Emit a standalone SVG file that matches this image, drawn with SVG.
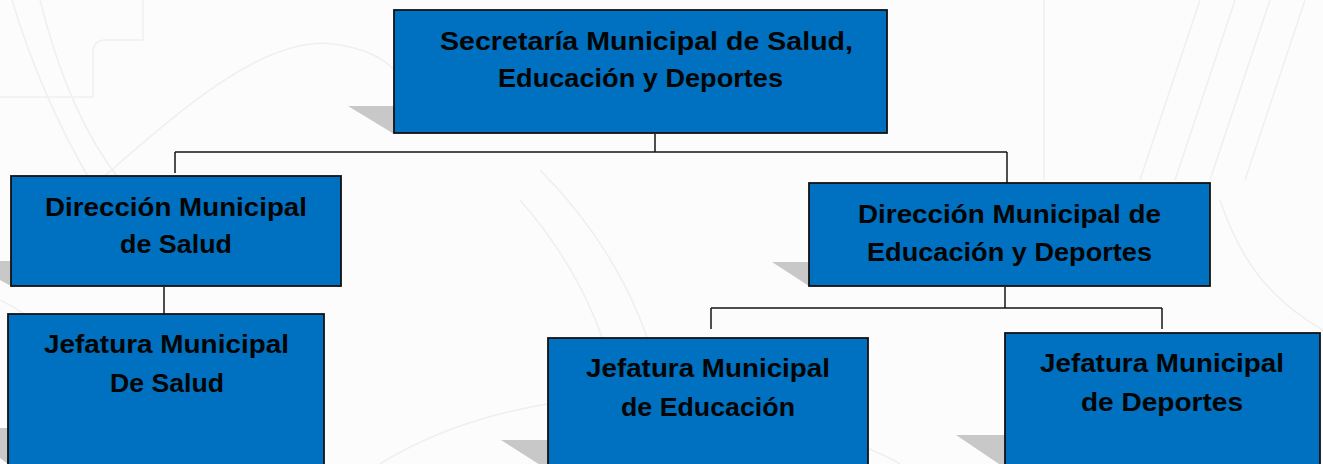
<svg xmlns="http://www.w3.org/2000/svg" width="1323" height="464" viewBox="0 0 1323 464">
<style>
.bg{fill:#fcfcfc}
.wm{fill:none;stroke:#efefef;stroke-width:1.5}
.sh{fill:#c8c8c8}
.box{fill:#0070c0;stroke:#111111;stroke-width:1.8}
.t{font-family:"Liberation Sans",Arial,sans-serif;font-weight:bold;font-size:26px;fill:#050505;text-anchor:start}
.con{fill:none;stroke:#141414;stroke-width:1.5}
</style>
<rect class="bg" x="0" y="0" width="1323" height="464"/>
<g id="watermark">
<path class="wm" d="M12,0 C30,60 55,120 90,180"/>
<path class="wm" d="M40,0 C55,60 80,130 120,180"/>
<path class="wm" d="M143,0 V40 H106 Q93,40 93,53 V97 H0"/>
<path class="wm" d="M100,180 C180,110 270,30 340,45 C370,50 385,60 394,70"/>
<path class="wm" d="M1044,0 V180"/>
<path class="wm" d="M1200,0 C1180,60 1160,120 1140,180"/>
<path class="wm" d="M1235,0 C1215,60 1195,120 1175,180"/>
<path class="wm" d="M1270,0 C1250,60 1230,120 1210,180"/>
<path class="wm" d="M1305,0 C1285,60 1265,120 1245,180"/>
<path class="wm" d="M0,300 C60,330 100,380 130,464"/>
<path class="wm" d="M540,170 C600,230 640,300 660,380"/>
<path class="wm" d="M520,200 C590,280 615,360 620,420"/>
<path class="wm" d="M1220,200 C1240,260 1270,300 1323,330"/>
<path class="wm" d="M380,464 C450,420 560,390 660,400 C760,410 860,440 900,464"/>
</g>
<g id="connectors">
<path class="con" d="M655,134 V152 M175,152 H1007 M175,152 V173 M1007,152 V183"/>
<path class="con" d="M164,287 V314"/>
<path class="con" d="M1005,287 V308 M711,308 H1162 M711,308 V329 M1162,308 V329"/>
</g>
<g id="n-secretaria">
<polygon class="sh" points="348,106 394,106 394,134"/>
<rect class="box" x="394" y="10" width="493" height="123"/>
<text class="t" x="440" y="50" textLength="413" lengthAdjust="spacingAndGlyphs">Secretaría Municipal de Salud,</text>
<text class="t" x="498" y="87" textLength="285" lengthAdjust="spacingAndGlyphs">Educación y Deportes</text>
</g>
<g id="n-dir-salud">
<polygon class="sh" points="-35,261 11,261 11,286"/>
<rect class="box" x="11" y="176" width="330" height="110"/>
<text class="t" x="45" y="216" textLength="262" lengthAdjust="spacingAndGlyphs">Dirección Municipal</text>
<text class="t" x="120" y="253" textLength="112" lengthAdjust="spacingAndGlyphs">de Salud</text>
</g>
<g id="n-jef-salud">
<polygon class="sh" points="-40,428 8,428 8,464"/>
<rect class="box" x="8" y="314" width="316" height="160"/>
<text class="t" x="44" y="353" textLength="245" lengthAdjust="spacingAndGlyphs">Jefatura Municipal</text>
<text class="t" x="110" y="392" textLength="114" lengthAdjust="spacingAndGlyphs">De Salud</text>
</g>
<g id="n-dir-educ">
<polygon class="sh" points="772,262 809,262 809,286"/>
<rect class="box" x="809" y="183" width="401" height="103"/>
<text class="t" x="858" y="223" textLength="303" lengthAdjust="spacingAndGlyphs">Dirección Municipal de</text>
<text class="t" x="867" y="261" textLength="285" lengthAdjust="spacingAndGlyphs">Educación y Deportes</text>
</g>
<g id="n-jef-educ">
<polygon class="sh" points="501,440 548,440 548,470"/>
<rect class="box" x="548" y="338" width="320" height="136"/>
<text class="t" x="586" y="377" textLength="244" lengthAdjust="spacingAndGlyphs">Jefatura Municipal</text>
<text class="t" x="621" y="416" textLength="174" lengthAdjust="spacingAndGlyphs">de Educación</text>
</g>
<g id="n-jef-dep">
<polygon class="sh" points="956,435 1005,435 1005,468"/>
<rect class="box" x="1005" y="333" width="315" height="141"/>
<text class="t" x="1040" y="372" textLength="244" lengthAdjust="spacingAndGlyphs">Jefatura Municipal</text>
<text class="t" x="1081" y="411" textLength="162" lengthAdjust="spacingAndGlyphs">de Deportes</text>
</g>
</svg>
